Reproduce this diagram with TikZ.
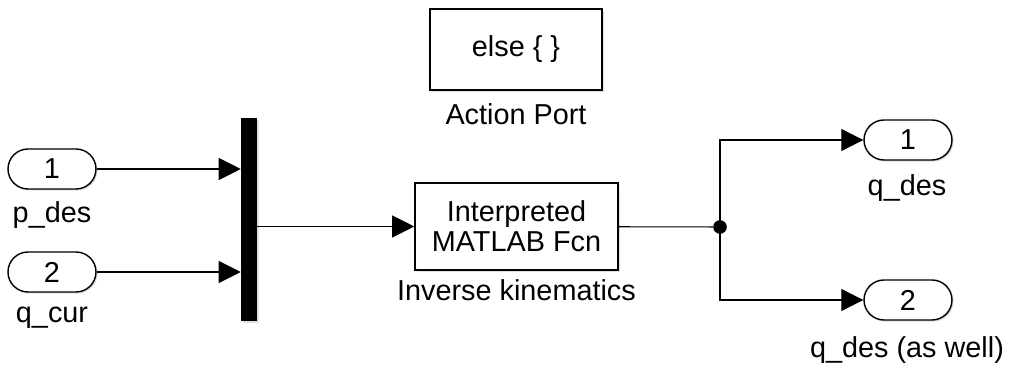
\documentclass[tikz,border=0pt]{standalone}
\usepackage{fontspec}
\setmainfont{Liberation Sans}
\usetikzlibrary{arrows.meta,positioning,shadows,calc}

\newcommand{\blkfont}{\fontsize{20.5}{21.5}\selectfont}

\begin{document}
\begin{tikzpicture}[
    block/.style={rectangle, draw, line width=1.1pt, fill=white, align=center, font=\blkfont,
        drop shadow={shadow xshift=0.04cm, shadow yshift=-0.04cm, opacity=0.25}},
    port/.style={rectangle, rounded corners=0.5cm, draw, line width=1pt, fill=white,
        minimum width=2.2cm, minimum height=1cm, font=\blkfont,
        drop shadow={shadow xshift=0.04cm, shadow yshift=-0.04cm, opacity=0.25}},
    blklabel/.style={font=\blkfont, anchor=base, inner sep=0pt},
    arrow/.style={-{Triangle[length=0.55cm, width=0.55cm]}, line width=0.75pt},
    wire/.style={line width=0.75pt}
]
\useasboundingbox (0,0) rectangle (25.3,-9.125);

% Input ports
\node[port] (pdes) at (1.3,-4.225) {1};
\node[port] (qcur) at (1.3,-6.8) {2};
\node[blklabel] (pdeslbl) at (1.3,-5.575) {p\_des};
\node[blklabel] (qcurlbl) at (1.3,-8.075) {q\_cur};

% Mux bar
\node[rectangle, fill=black, minimum width=0.4cm, minimum height=5.075cm, inner sep=0pt,
    drop shadow={shadow xshift=0.04cm, shadow yshift=-0.04cm, opacity=0.25}] (mux) at (6.225,-5.4875) {};

% Action port block
\node[block, minimum width=4.3cm, minimum height=2.025cm] (action) at (12.9,-1.2375) {else \{ \}};
\node[blklabel] (actionlbl) at (12.9,-3.125) {Action Port};

% Interpreted function block
\node[block, minimum width=5.075cm, minimum height=2.175cm] (fcn) at (12.9125,-5.6625) {Interpreted\\MATLAB Fcn};
\node[blklabel] (fcnlbl) at (12.9125,-7.5) {Inverse kinematics};

% Branch point
\node[circle, fill=black, inner sep=0pt, minimum size=0.34cm] (split) at (18,-5.675) {};

% Output ports
\node[port] (qdes) at (22.7,-3.5) {1};
\node[port] (qdesb) at (22.7,-7.5) {2};
\node[blklabel] (qdeslbl) at (22.675,-4.875) {q\_des};
\node[blklabel] (qdesblbl) at (22.675,-8.925) {q\_des (as well)};

% Signal lines
\draw[arrow] (pdes) -- (pdes -| mux.west);
\draw[arrow] (qcur) -- (qcur -| mux.west);
\draw[arrow] (mux.east |- fcn) -- (fcn);
\draw[wire] (fcn) -- (split);
\draw[arrow] (split.center) |- (qdes);
\draw[arrow] (split.center) |- (qdesb);
\end{tikzpicture}
\end{document}
